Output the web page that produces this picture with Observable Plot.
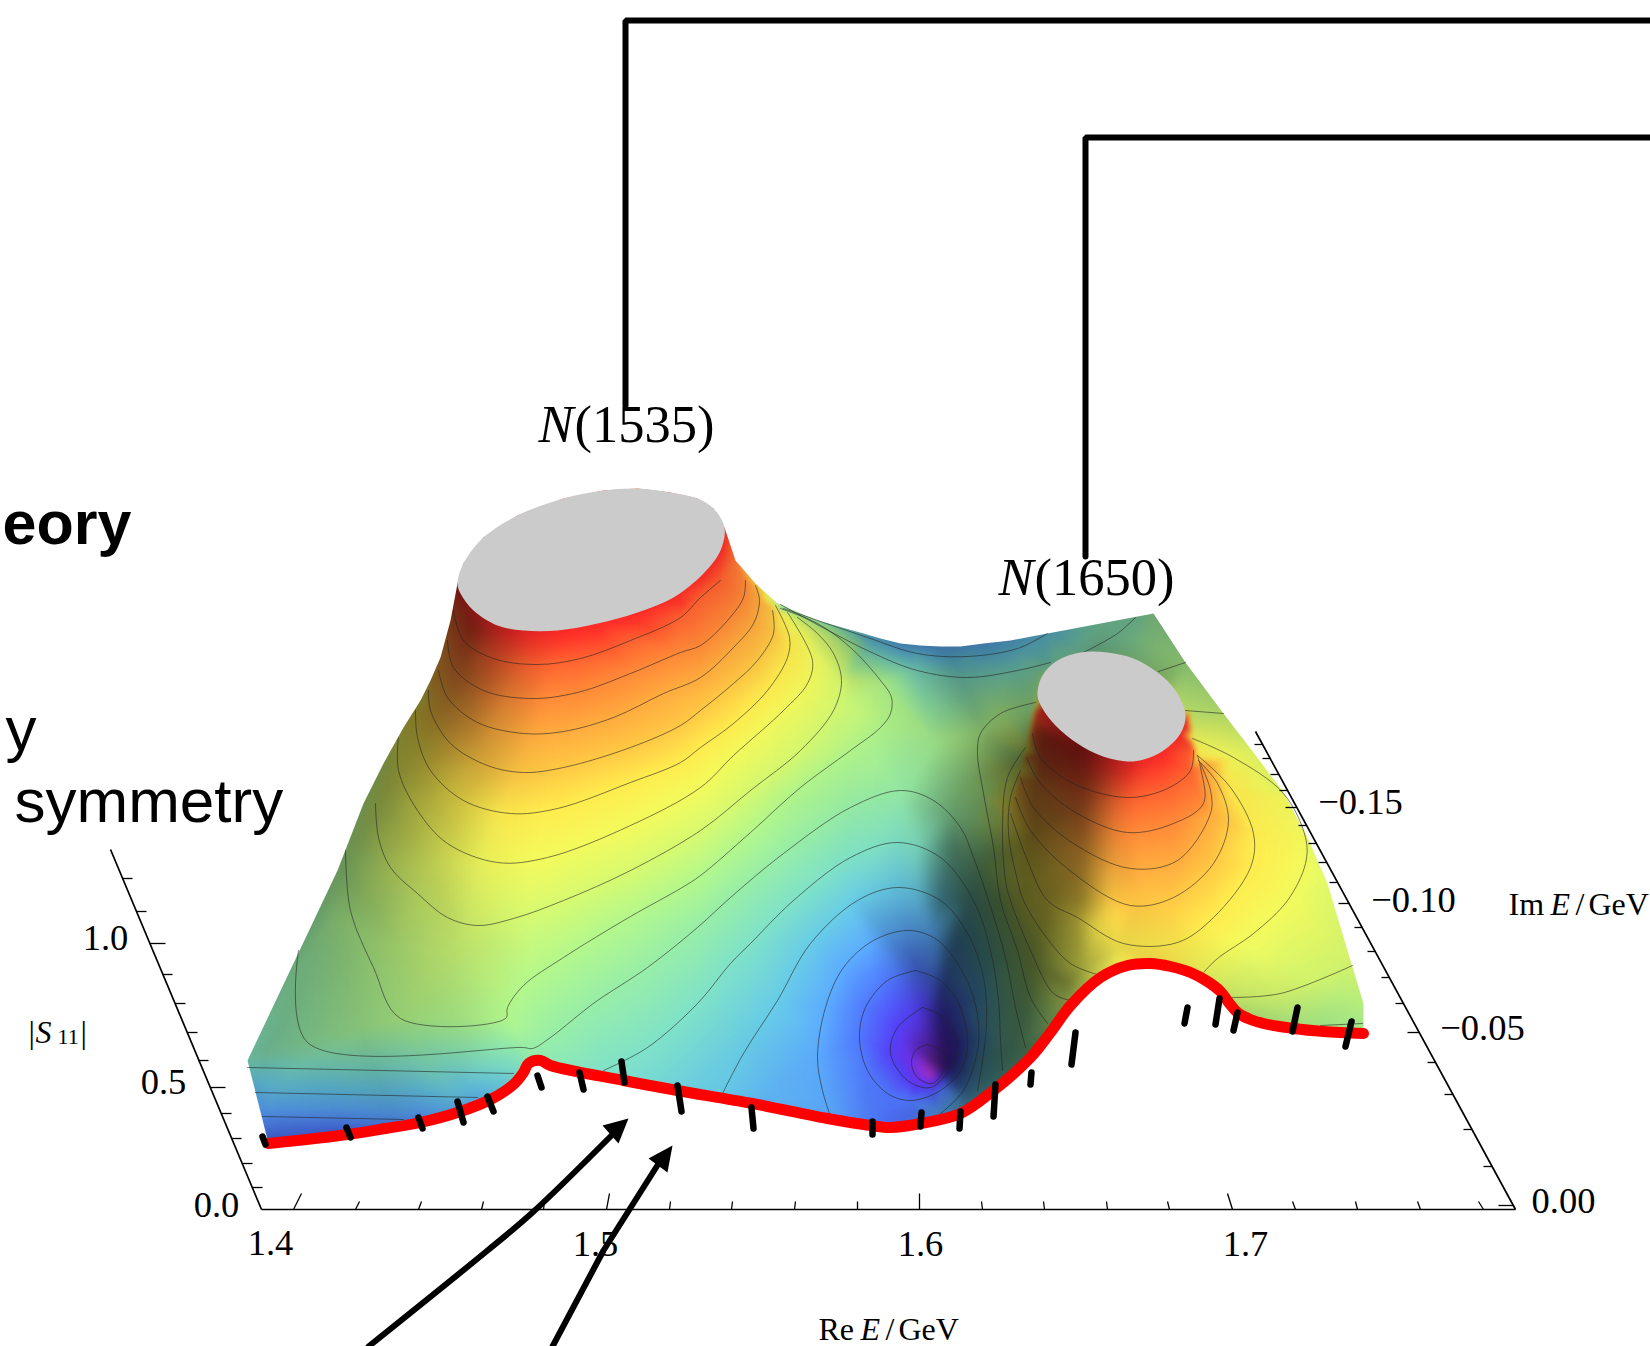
<!DOCTYPE html>
<html><head><meta charset="utf-8">
<script src="https://cdn.jsdelivr.net/npm/d3@7"></script>
<script src="https://cdn.jsdelivr.net/npm/@observablehq/plot@0.6"></script>
<style>html,body{margin:0;padding:0;background:#fff}svg{display:block;max-width:none}</style>
</head><body><div id="chart"></div>
<script>
// All positions are picture coordinates (the chart is a 3-D projection).
const c1=[[453,610],[463,640],[493,658],[537,664],[580,658],[630,640],[680,617],[700,597],[720,580]];
const c2=[[447,640],[453,667],[483,690],[530,698],[577,692],[630,673],[680,652],[700,645],[727,620],[743,597],[745,580]];
const c3=[[438,670],[447,697],[477,722],[523,733],[563,731],[613,717],[663,693],[700,677],[733,647],[753,623],[759,600],[755,585]];
const c4=[[428,690],[430,710],[450,743],[487,765],[523,772],[563,767],[630,747],[680,725],[700,710],[733,683],[757,660],[773,633],[772,610]];
const c5=[[415,710],[417,737],[430,770],[463,800],[510,813],[557,808],[630,782],[680,762],[700,747],[733,723],[767,690],[787,657],[789,637],[775,605]];
const c6=[[398,737],[398,770],[417,810],[447,843],[497,862],[547,857],[630,825],[700,787],[733,755],[783,710],[807,683],[812,660],[787,612]];
const c7=[[375,803],[378,837],[390,867],[417,893],[447,917],[477,925],[513,918],[563,900],[630,870],[700,830],[750,790],[800,750],[833,710],[841,680],[833,653],[817,633],[797,617]];
const c8=[[345,850],[350,910],[373,967],[400,1018],[505,1018],[507,1007],[523,985],[563,957],[630,916],[680,888],[700,875],[750,832],[800,787],[850,750],[880,727],[890,713],[891,697],[880,680],[850,647],[817,623],[780,608]];
const c9=[[298,950],[307,1042],[523,1047],[532,1048],[550,1037],[580,1013],[597,1000],[647,967],[697,927],[730,897],[783,853],[850,807],[900,790],[933,800],[960,827],[973,857],[988,900],[1005,957],[1015,1007],[1025,1047]];
const c10=[[603,1070],[647,1047],[697,1003],[730,963],[750,943],[793,900],[850,857],[897,842],[940,857],[973,900],[990,950],[998,1000],[1000,1040],[1002,1070]];
const c11=[[722,1093],[743,1053],[777,1000],[810,943],[857,900],[898,887],[940,900],[967,933],[983,977],[986,1023],[982,1060],[977,1090]];
const c12=[[829,1113],[822,1090],[817,1057],[825,1007],[843,967],[873,940],[907,930],[933,937],[953,957],[973,997],[978,1043],[963,1090],[940,1113]];
const c13=[[915,970],[940,980],[958,1003],[967,1040],[962,1067],[940,1090],[910,1100],[887,1093],[867,1070],[859,1037],[865,1007],[887,980],[915,970]];
const c14=[[922,1007],[943,1017],[957,1043],[950,1067],[930,1087],[907,1080],[890,1053],[897,1027],[922,1007]];
const c15=[[927,1044],[940,1050],[945,1065],[932,1083],[917,1077],[911,1063],[915,1050],[927,1044]];
const p1=[[1032,733],[1040,757],[1073,783],[1127,797],[1167,788],[1190,770],[1193,750]];
const p2=[[1026,757],[1040,783],[1077,813],[1127,832],[1173,823],[1203,803],[1200,767],[1197,755]];
const p3=[[1020,777],[1033,807],[1073,843],[1130,868],[1177,860],[1210,813],[1210,790],[1200,763]];
const p4=[[1015,797],[1030,830],[1073,873],[1130,905],[1173,897],[1213,863],[1228,820],[1217,783],[1198,760]];
const p5=[[1010,813],[1027,860],[1047,900],[1077,917],[1123,943],[1177,942],[1213,917],[1250,867],[1253,833],[1230,787],[1197,755]];
const p6a=[[1020,770],[1010,797],[1008,833],[1017,880],[1023,900],[1043,933],[1070,963],[1100,975]];
const p6b=[[1203,972],[1217,958],[1253,933],[1287,900],[1305,863],[1305,837],[1283,793],[1233,757],[1192,738]];
const d1=[[1035,702],[1000,713],[980,733],[977,753],[983,793],[993,847],[1000,900],[1017,950],[1030,997],[1047,1023]];
const d2=[[1025,747],[1007,777],[1002,827],[1005,880],[1010,900],[1030,950],[1053,993],[1070,1000]];
const e1=[[1230,997],[1280,993],[1352,965]];
const e2=[[1320,1025],[1362,1023]];
const e3=[[1185,710],[1223,713]];
const e4=[[1158,671],[1185,662]];
const t1=[[783,608],[867,637],[917,653],[967,656],[1017,648],[1047,633]];
const t2=[[780,604],[867,650],[917,670],[967,677],[1017,670],[1050,662]];
const t3=[[1083,652],[1117,633],[1135,617]];
const b1=[[247,1067],[513,1073]];
const b2=[[255,1092],[477,1097]];
const b3=[[262,1116],[403,1119]];
const contourSets=[[c1,.93],[c2,.87],[c3,.81],[c4,.75],[c5,.69],[c6,.63],[c7,.57],[c8,.51],[c9,.45],[c10,.39],[c11,.33],[c12,.27],[c13,.21],[c14,.15],[c15,.08],
 [p1,.93],[p2,.87],[p3,.81],[p4,.75],[p5,.69],[p6a,.63],[p6b,.63],[d1,.51],[d2,.57],[e1,.57],[e2,.5],[e3,.55],[e4,.5],[t1,.33],[t2,.39],[t3,.42],[b1,.37],[b2,.3],[b3,.25]];

const topRim1=[[457,583],[463,563],[483,537],[517,515],[563,498],[603,490],[637,488],[670,492],[697,498],[713,508],[724,527],[720,550],[703,573],[673,597],[637,612],[597,623],[557,630],[523,630],[497,625],[473,610],[460,593]];
const topRim2=[[1037,695],[1042,675],[1057,660],[1080,652],[1107,652],[1133,658],[1157,672],[1175,690],[1185,715],[1180,733],[1163,750],[1143,759],[1127,761],[1100,755],[1077,743],[1055,725],[1042,708]];
const rimHeights=[[724,527,1],[720,550,1],[703,573,1],[673,597,1],[637,612,1],[597,623,1],[557,630,1],[523,630,1],[497,625,1],[473,610,1],[460,593,1],
[680,603,.99],[637,620,.99],[597,631,.99],[557,638,.99],[523,638,.99],
[1185,715,1],[1180,733,1],[1163,750,1],[1143,759,1],[1127,761,1],[1100,755,1],[1077,743,1],[1055,725,1],[1042,708,1],[1036,712,.97],[1188,728,.97],[1192,745,.95],
[1163,758,.99],[1127,769,.99],[1100,763,.99],[1077,751,.99],[1055,733,.99]];
// surface height samples on its edges (x, y, colour level)
const edgeHeights=[[268,1143,.2],[247,1060,.4],[298,945,.44],[343,850,.5],[383,763,.56],[420,700,.66],[440,657,.8],[455,600,.95],[735,560,.9],[755,583,.72],[777,603,.52],[817,620,.42],[863,633,.33],[900,643,.28],[940,646,.27],[983,643,.28],[1047,631,.32],[1100,623,.42],[1153,613,.46],[1185,660,.5],[1223,713,.56],[1253,752,.6],[1283,792,.6],[1307,837,.6],[1327,883,.59],[1350,960,.57],[1363,1003,.53],[1363,1030,.5],
[347,1133,.2],[420,1122,.24],[460,1110,.29],[513,1083,.37],[528,1062,.43],[550,1065,.42],[623,1080,.38],[677,1090,.35],[730,1100,.32],[752,1103,.3],[827,1118,.27],[870,1125,.22],[890,1127,.2],[920,1123,.22],[940,1118,.27],[977,1095,.33],[1002,1075,.39],[1025,1052,.45],[1047,1028,.51],[1070,1005,.57],[1100,977,.63],[1127,965,.68],[1150,963,.7],[1177,968,.68],[1207,980,.6],[1238,1013,.54],[1263,1023,.52],[1293,1028,.51],[1323,1031,.5],
[1040,673,.44],[1055,657,.42],[1080,649,.41],[1107,649,.43],[1135,655,.46],[1159,669,.5],[1178,688,.53],[1190,708,.55],[1192,722,.57],[1031,697,.47],[1031,712,.48],[1027,730,.5],[1021,757,.53],[1015,778,.57],
[930,735,.49],[900,760,.47],[930,1074,0],[-5,-5,.5],[1655,-5,.5],[1655,1351,.5],[-5,1351,.5]];
// darkening samples (x, y, shade opacity)
const shade=[[-5,-5,.1],[1655,-5,0],[1655,1351,0],[-5,1351,.1],
[457,590,.55],[453,610,.55],[473,627,.55],[500,635,.3],[530,633,.1],[563,637,0],[463,670,.5],[513,683,.15],[547,687,0],[430,737,.45],[480,753,.2],[520,770,.03],[560,775,0],
[380,803,.45],[430,803,.3],[497,820,.03],[343,867,.4],[430,863,.2],[480,863,.05],[530,870,0],[330,917,.3],[397,950,.2],[463,950,.1],[530,950,0],[263,1050,.25],[363,1033,.2],[463,1033,.1],[513,1027,0],
[600,600,0],[650,650,0],[620,720,0],[620,800,0],[620,900,0],[700,800,0],
[247,1060,.2],[263,1083,.15],[263,1117,.15],[270,1140,.25],[397,1125,.2],[463,1090,.1],[540,1060,0],[620,1075,0],
[700,700,0],[700,1000,0],[800,1100,.03],[883,1120,.05],[933,1117,.25],[967,1105,.5],[993,1078,.6],[1017,1050,.62],[1070,1000,.4],[1095,975,.2],[1120,962,0],
[850,900,0],[917,900,.15],[933,933,.3],[940,900,.5],[967,900,.66],[1000,900,.68],[1050,900,.58],[1077,917,.4],[1093,927,.15],[1117,917,0],
[950,950,.66],[933,983,.4],[940,1000,.6],[917,1017,.08],[943,1067,.65],[930,1074,0],[900,1040,0],[1033,967,.66],[1067,983,.55],[1083,967,.35],[1117,950,.1],
[917,847,.08],[950,847,.5],[950,813,.35],[967,780,.35],[933,747,.1],[983,730,.3],[900,800,.03],[983,863,.62],[1017,763,.6],[1017,897,.65],
[1028,712,.35],[1043,733,.65],[1083,750,.62],[1110,767,.35],[1140,767,.05],[1167,760,0],[1033,783,.64],[1083,800,.55],[1117,813,.1],[1133,817,0],[1033,833,.64],[1083,850,.45],[1113,850,.1],[1033,883,.62],[1080,900,.45],[1110,900,.05],[1140,890,0],
[777,603,.05],[863,633,.3],[940,646,.35],[1047,633,.3],[1100,623,.3],[1153,613,.3],[1185,662,.25],[1223,713,.15],[1253,752,.05],[1283,792,.03],[1320,870,0],[1360,1000,.05],[1300,1020,.1],[1000,680,.3],[900,680,.1],[850,700,.02],[1205,730,.1],[1230,850,0],[1250,950,0],[1220,985,.08]];

const colorLevels=[0,.08,.15,.21,.27,.33,.39,.45,.51,.57,.63,.69,.75,.81,.87,.93,1];
const colorStops=["#a830c8","#7030e8","#5540f8","#5078ff","#5cacff","#68cce8","#80e2c8","#98eea8","#b4f88c","#d8fa70","#f4fa5c","#ffec4e","#ffc844","#ffab3e","#ff8a38","#ff6230","#ff2a28"];

const redCurve=[[268,1143],[347,1134],[385,1128],[420,1122],[460,1111],[490,1099],[513,1084],[523,1072],[528,1063],[540,1060],[550,1065],[623,1080],[677,1090],[752,1103],[827,1118],[870,1125],[890,1127],[920,1123],[960,1113],[993,1090],[1030,1057],[1050,1032],[1070,1005],[1100,977],[1127,965],[1150,963],[1170,966],[1190,972],[1207,981],[1220,991],[1229,1003],[1238,1013],[1250,1019],[1263,1023],[1293,1028],[1323,1031],[1363,1033]];
const silhouette=[[268,1143],[247,1060],[337,870],[363,803],[383,763],[403,727],[420,700],[430,680],[440,657],[450,620],[457,583],[463,563],[483,537],[517,515],[563,498],[603,490],[637,488],[670,492],[697,498],[713,508],[724,527],[735,560],[755,583],[777,603],[817,620],[863,633],[880,638],[900,643],[920,645],[940,646],[960,646],[983,643],[1010,640],[1047,633],[1153,613],[1185,662],[1223,713],[1253,752],[1283,792],[1307,837],[1327,883],[1350,960],[1363,1003],[1363,1030]];
const pageCorners=[[-5,-5],[-5,1351],[1655,1351],[1655,-5],[-5,-5]];

const blackMarks=[[262,1136,265,1144],[346,1127,350,1137],[418,1117,422,1128],[457,1101,463,1122],[487,1096,493,1111],[537,1075,541,1087],[579,1072,583,1089],[621,1061,624,1082],[677,1085,681,1111],[751,1107,753,1128],[872,1121,872,1134],[921,1112,920,1126],[960,1111,959,1128],[995,1084,993,1116],[1031,1072,1030,1084],[1075,1032,1071,1064],[1187,1007,1184,1023],[1219,998,1215,1024],[1237,1012,1233,1030],[1297,1007,1292,1031],[1351,1021,1345,1046]];

const axisLines=[[261,1209,1515,1209],[261,1209,110,849],[1515,1209,1255,731]];
const reTicks=[[293,1209,301,1193],[355,1209,359,1201],[418,1209,421,1201],[481,1209,483,1201],[543,1209,544,1201],[606,1209,609,1193],[669,1209,670,1201],[731,1209,732,1201],[794,1209,795,1201],[857,1209,857,1201],[919,1209,919,1193],[982,1209,981,1201],[1044,1209,1043,1201],[1107,1209,1106,1201],[1169,1209,1167,1201],[1232,1209,1227,1193],[1295,1209,1292,1201],[1357,1209,1355,1201],[1420,1209,1417,1201],[1483,1209,1478,1201]];
const imTicks=[[1513,1205,1498,1205],[1492,1166,1483,1166],[1471,1129,1463,1129],[1452,1094,1444,1094],[1435,1062,1427,1062],[1419,1032,1407,1032],[1403,1003,1395,1003],[1389,977,1381,977],[1375,951,1367,951],[1362,927,1354,927],[1349,903,1338,903],[1337,882,1329,882],[1326,862,1318,862],[1316,843,1308,843],[1306,825,1298,825],[1296,807,1285,807],[1287,790,1279,790],[1278,774,1270,774],[1270,758,1262,758],[1262,744,1254,744]];
const sTicks=[[252,1187,262,1187],[242,1163,252,1163],[231,1138,241,1138],[221,1113,231,1113],[210,1087,225,1087],[198,1060,208,1060],[187,1032,197,1032],[175,1003,185,1003],[162,974,172,974],[149,943,165,943],[136,911,146,911],[122,878,132,878]];

const bracketA=[[625,405],[625,20],[1650,20]];
const bracketB=[[1085,556],[1085,137],[1650,137]];
const arrowA=[[368,1346],[487,1250],[532,1212],[612,1134]];
const arrowB=[[552,1346],[603,1250],[660,1160]];
const headA=[[628,1118],[602,1125],[618,1143]];
const headB=[[672,1145],[648,1158],[667,1172]];

const tickLabels=[["1.4",270,1243],["1.5",595,1244],["1.6",920,1244],["1.7",1245,1244],["0.0",216,1205],["0.5",163,1082],["1.0",105,938],["0.00",1563,1201],["−0.05",1482,1028],["−0.10",1413,900],["−0.15",1360,802]];
const uprightTitles=[["Re",818,1329],["/",885,1329],["GeV",898,1329],["Im",1508,904],["/",1575,904],["GeV",1588,904],["|",28,1032],["|",80,1032]];
const italicTitles=[["E",860,1329],["E",1550,904],["S",35,1032]];
const subscriptTitle=[["11",57,1036]];
const stateLetters=[["N",538,425],["N",998,578]];
const stateNumbers=[["(1535)",574,425],["(1650)",1034,578]];
const boldWords=[["eory",2,524]];
const plainWords=[["y",5,730],["symmetry",14,802]];

const rows=pts=>pts.map(([x,y])=>({x,y}));
const linkRows=l=>l.map(([x1,y1,x2,y2])=>({x1,y1,x2,y2}));
const labelRows=l=>l.map(([t,x,y])=>({t,x,y}));
const contourRows=contourSets.flatMap(([pts],id)=>pts.map(([x,y])=>({x,y,id})));
const fieldRows=[...contourSets.flatMap(([pts,h])=>pts.map(([x,y])=>({x,y,h}))),...[...rimHeights,...edgeHeights].map(([x,y,h])=>({x,y,h}))];
const shadeRows=shade.map(([x,y,o])=>({x,y,o}));
const maskRows=rows([...pageCorners,...silhouette,...[...redCurve].reverse(),[-5,-5]]);
const path=(pts,w,curve="linear")=>Plot.line(rows(pts),{x:"x",y:"y",stroke:"#000",strokeWidth:w,curve,strokeLinejoin:"miter"});
const txt=(l,font,size,extra={})=>Plot.text(labelRows(l),{x:"x",y:"y",text:"t",fontFamily:font,fontSize:size,fill:"#000",textAnchor:"start",lineAnchor:"middle",...extra});
const serif="Liberation Serif",sans="Liberation Sans";

const chart=Plot.plot({
  width:1650,height:1346,margin:0,style:{background:"#fff"},
  x:{domain:[0,1650],range:[0,1650],axis:null},
  y:{domain:[0,1346],range:[0,1346],axis:null},
  color:{type:"linear",domain:colorLevels,range:colorStops},
  opacity:{domain:[0,1],range:[0,1]},
  marks:[
    Plot.raster(fieldRows,{x:"x",y:"y",fill:"h",interpolate:"barycentric",pixelSize:1,blur:2}),
    Plot.raster(shadeRows,{x:"x",y:"y",fill:"black",fillOpacity:"o",interpolate:"barycentric",pixelSize:1,blur:4}),
    Plot.line(maskRows,{x:"x",y:"y",fill:"white",stroke:"none"}),
    Plot.line(contourRows,{x:"x",y:"y",z:"id",stroke:"#222",strokeOpacity:.65,strokeWidth:.9,curve:"catmull-rom"}),
    Plot.line(rows(topRim1),{x:"x",y:"y",fill:"#cbcbcb",stroke:"none",curve:"catmull-rom-closed"}),
    Plot.line(rows(topRim2),{x:"x",y:"y",fill:"#cbcbcb",stroke:"none",curve:"catmull-rom-closed"}),
    Plot.line(rows(redCurve),{x:"x",y:"y",stroke:"#ff0000",strokeWidth:11,strokeLinecap:"round",strokeLinejoin:"round",curve:"catmull-rom"}),
    Plot.link(linkRows(blackMarks),{x1:"x1",y1:"y1",x2:"x2",y2:"y2",stroke:"#000",strokeWidth:6.5,strokeLinecap:"round"}),
    Plot.link(linkRows(axisLines),{x1:"x1",y1:"y1",x2:"x2",y2:"y2",stroke:"#000",strokeWidth:1.7}),
    Plot.link(linkRows([...reTicks,...imTicks,...sTicks]),{x1:"x1",y1:"y1",x2:"x2",y2:"y2",stroke:"#000",strokeWidth:1.3}),
    path(bracketA,6),path(bracketB,6),
    path(arrowA,6,"catmull-rom"),path(arrowB,6),
    Plot.line(rows(headA),{x:"x",y:"y",fill:"#000",stroke:"none"}),
    Plot.line(rows(headB),{x:"x",y:"y",fill:"#000",stroke:"none"}),
    Plot.text(labelRows(tickLabels),{x:"x",y:"y",text:"t",fontFamily:serif,fontSize:36.5,fill:"#000",lineAnchor:"middle"}),
    txt(uprightTitles,serif,32),
    txt(italicTitles,serif,32,{fontStyle:"italic"}),
    txt(subscriptTitle,serif,22),
    txt(stateLetters,serif,52.5,{fontStyle:"italic"}),
    txt(stateNumbers,serif,52.5),
    txt(boldWords,sans,61,{fontWeight:"bold"}),
    txt(plainWords,sans,62)
  ]
});
document.getElementById("chart").append(chart);
</script></body></html>
